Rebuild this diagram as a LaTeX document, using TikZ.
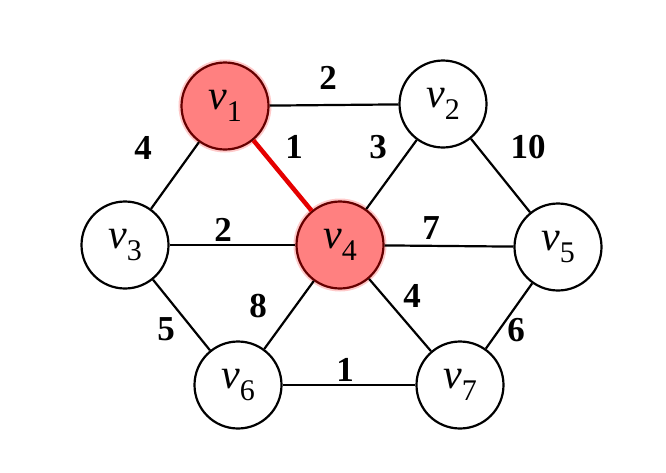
\documentclass[tikz,border=0pt]{standalone}
\usepackage{fontspec}
\setmainfont{Liberation Serif}
\begin{document}
\begin{tikzpicture}[x=1pt,y=-1pt,
  vnode/.style={circle,draw=black,line width=2.2pt,minimum size=87pt,inner sep=0pt,fill=white},
  hnode/.style={vnode,fill=red!50!white,draw=red!40!black,
     preaction={draw=red!60,line width=6pt,opacity=0.35}},
  edge/.style={line width=2.2pt,black},
  redge/.style={line width=4.5pt,red!90!black},
  wlab/.style={font=\fontsize{35}{35}\selectfont\bfseries}]
\useasboundingbox (0,0) rectangle (666,472);
\newcommand{\vlab}[1]{\fontsize{42}{42}\selectfont\textit{v}\raisebox{-0.28em}{\fontsize{30}{30}\selectfont #1}}
\node[hnode] (v1) at (225,106) {\vlab{1}};
\node[vnode] (v2) at (443,104) {\vlab{2}};
\node[vnode] (v3) at (125,245) {\vlab{3}};
\node[hnode] (v4) at (340,245) {\vlab{4}};
\node[vnode] (v5) at (558,247) {\vlab{5}};
\node[vnode] (v6) at (238,385) {\vlab{6}};
\node[vnode] (v7) at (460,385) {\vlab{7}};
\draw[edge] (v1) -- (v2);
\draw[edge] (v1) -- (v3);
\draw[edge] (v2) -- (v4);
\draw[edge] (v2) -- (v5);
\draw[edge] (v3) -- (v4);
\draw[edge] (v4) -- (v5);
\draw[edge] (v3) -- (v6);
\draw[edge] (v4) -- (v6);
\draw[edge] (v4) -- (v7);
\draw[edge] (v5) -- (v7);
\draw[edge] (v6) -- (v7);
\draw[redge] (v1) -- (v4);
\node[wlab] (l12) at (328,78) {2};
\node[wlab] (l13) at (143,148) {4};
\node[wlab] (l14) at (294,147) {1};
\node[wlab] (l24) at (378,147) {3};
\node[wlab] (l25) at (528,147) {10};
\node[wlab] (l34) at (223,230) {2};
\node[wlab] (l45) at (431,228) {7};
\node[wlab] (l46) at (258,306) {8};
\node[wlab] (l47) at (412,296) {4};
\node[wlab] (l36) at (166,329) {5};
\node[wlab] (l57) at (516,330) {6};
\node[wlab] (l67) at (345,370) {1};
\end{tikzpicture}
\end{document}
